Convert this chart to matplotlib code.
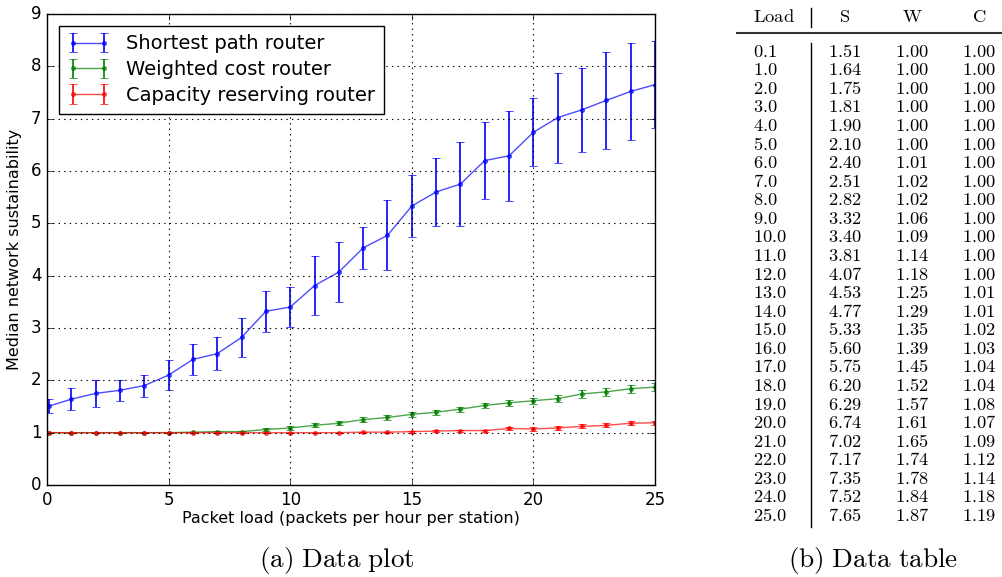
import numpy as np
import matplotlib
matplotlib.use('Agg')
import matplotlib.pyplot as plt

plt.style.use('classic')
plt.rcParams['mathtext.fontset'] = 'cm'
plt.rcParams['font.family'] = 'DejaVu Sans'

# data (medians from the table, error bars)
load = [0.1, 1, 2, 3, 4, 5, 6, 7, 8, 9, 10, 11, 12, 13, 14, 15, 16, 17, 18, 19, 20, 21, 22, 23, 24, 25]
shortest = [1.51, 1.64, 1.75, 1.81, 1.90, 2.10, 2.40, 2.51, 2.82, 3.32, 3.40, 3.81, 4.07,
            4.53, 4.77, 5.33, 5.60, 5.75, 6.20, 6.29, 6.74, 7.02, 7.17, 7.35, 7.52, 7.65]
weighted = [1.00, 1.00, 1.00, 1.00, 1.00, 1.00, 1.01, 1.02, 1.02, 1.06, 1.09, 1.14, 1.18,
            1.25, 1.29, 1.35, 1.39, 1.45, 1.52, 1.57, 1.61, 1.65, 1.74, 1.78, 1.84, 1.87]
capacity = [1.00, 1.00, 1.00, 1.00, 1.00, 1.00, 1.00, 1.00, 1.00, 1.00, 1.00, 1.00, 1.00,
            1.01, 1.01, 1.02, 1.03, 1.04, 1.04, 1.08, 1.07, 1.09, 1.12, 1.14, 1.18, 1.19]
shortest_err = [0.13, 0.21, 0.25, 0.20, 0.21, 0.28, 0.30, 0.32, 0.38, 0.39, 0.38, 0.56, 0.57,
                0.40, 0.67, 0.60, 0.65, 0.81, 0.74, 0.86, 0.65, 0.86, 0.80, 0.93, 0.92, 0.83]
weighted_err = [0.0, 0.0, 0.0, 0.0, 0.0, 0.0, 0.01, 0.02, 0.02, 0.03, 0.03, 0.04, 0.04,
                0.04, 0.04, 0.05, 0.05, 0.05, 0.05, 0.06, 0.06, 0.07, 0.08, 0.08, 0.08, 0.07]
capacity_err = [0.0, 0.0, 0.0, 0.0, 0.0, 0.0, 0.0, 0.0, 0.0, 0.0, 0.0, 0.0, 0.0,
                0.01, 0.01, 0.02, 0.02, 0.02, 0.02, 0.03, 0.03, 0.03, 0.04, 0.04, 0.04, 0.04]

table_loads = ['0.1', '1.0', '2.0', '3.0', '4.0', '5.0', '6.0', '7.0', '8.0', '9.0', '10.0', '11.0', '12.0',
               '13.0', '14.0', '15.0', '16.0', '17.0', '18.0', '19.0', '20.0', '21.0', '22.0', '23.0', '24.0', '25.0']

fig = plt.figure(figsize=(10.03, 5.77), dpi=100, facecolor='white')
W, H = 1003.0, 577.0
ax = fig.add_axes([47 / W, (H - 485) / H, 608 / W, 471 / H])

series = [(shortest, shortest_err, 'b', 'Shortest path router'),
          (weighted, weighted_err, 'g', 'Weighted cost router'),
          (capacity, capacity_err, 'r', 'Capacity reserving router')]
for vals, err, c, lab in series:
    eb = ax.errorbar(load, vals, yerr=err, fmt='.-', color=c, ecolor=c, capsize=3,
                     lw=1, elinewidth=1.2, markersize=6, mec=c, label=lab)
    eb[0].set_alpha(0.7)

ax.set_xlim(0, 25)
ax.set_ylim(0, 9)
ax.set_xticks(range(0, 26, 5))
ax.set_yticks(range(0, 10))
ax.grid(True, color='k', linestyle=':', linewidth=0.8)
ax.tick_params(labelsize=12)
ax.set_xlabel('Packet load (packets per hour per station)', fontsize=11.5, labelpad=2)
ax.set_ylabel('Median network sustainability', fontsize=11.5, labelpad=6)
leg = ax.legend(loc='upper left', fontsize=14, numpoints=2, borderaxespad=0.6,
                handlelength=2.2, labelspacing=0.35, borderpad=0.45)
leg.get_frame().set_linewidth(1)
for h in leg.get_lines():
    h.set_color('#444444')

# captions
fig.text(337 / W, 1 - 561 / H, r'$\mathrm{(a)\ Data\ plot}$', ha='center', va='center', fontsize=19.5)
fig.text(873 / W, 1 - 561 / H, r'$\mathrm{(b)\ Data\ table}$', ha='center', va='center', fontsize=19.5)

# data table
def tx(x, y, s, ha='center'):
    fig.text(x / W, 1 - y / H, r'$\mathrm{%s}$' % s, ha=ha, va='center', fontsize=13.3)

tx(753, 16.5, 'Load', ha='left')
tx(845, 16.5, 'S')
tx(912, 16.5, 'W')
tx(979, 16.5, 'C')
for i in range(len(table_loads)):
    y = 51.7 + 18.57 * i
    tx(753, y, table_loads[i], ha='left')
    tx(845, y, '%.2f' % shortest[i])
    tx(912, y, '%.2f' % weighted[i])
    tx(979, y, '%.2f' % capacity[i])

fig.add_artist(plt.Line2D([737 / W, 1003 / W], [1 - 33 / H, 1 - 33 / H], color='#333333', lw=1.5))
fig.add_artist(plt.Line2D([811 / W, 811 / W], [1 - 8 / H, 1 - 27 / H], color='k', lw=1))
fig.add_artist(plt.Line2D([811 / W, 811 / W], [1 - 43 / H, 1 - 527 / H], color='k', lw=1))

fig.savefig('out.png', dpi=100, facecolor='white')
